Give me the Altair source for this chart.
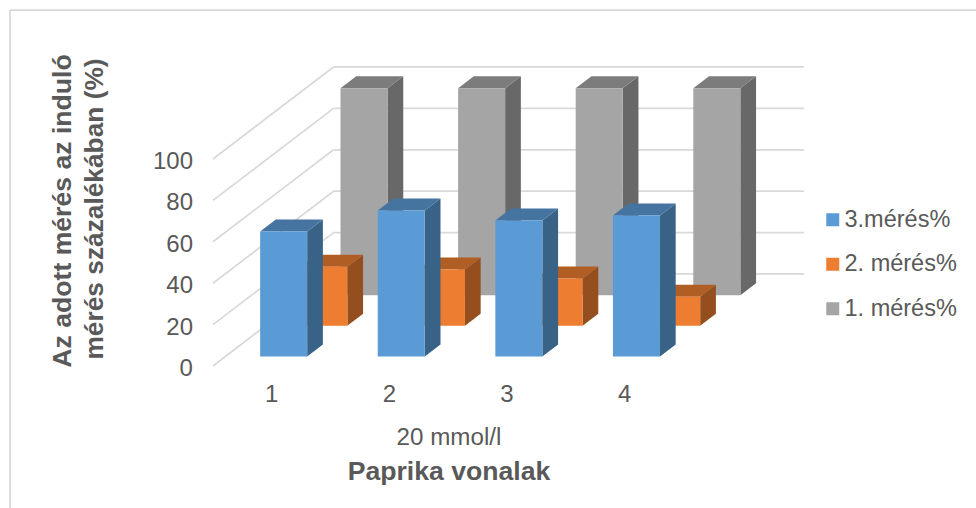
import altair as alt
import pandas as pd

# Chart values
categories = ["1", "2", "3", "4"]
series = ["3.mérés%", "2. mérés%", "1. mérés%"]
meres_3 = [60.4, 70.5, 65.7, 68.1]
meres_2 = [28.5, 27.2, 22.9, 14.0]
meres_1 = [100, 100, 100, 100]
y_ticks = [0, 20, 40, 60, 80, 100]

front_colors = ["#5B9BD5", "#ED7D31", "#A5A5A5"]
top_colors = ["#44749F", "#B15E25", "#7C7C7C"]
side_colors = ["#396287", "#954F1F", "#686868"]
text_color = "#595959"
grid_color = "#D9D9D9"
font = "Liberation Sans"

# Oblique projection: one full step of depth moves a point right and up
DEPTH_X = 1.025   # in category units
DEPTH_Y = 44.44   # in value units
BAR_WIDTH = 0.40
BAR_GAP = 0.295
SLOT_GAP = 0.31
SLOT_DEPTH = 0.391

x_scale = alt.Scale(domain=[-1.811, 6.488], nice=False, zero=False)
y_scale = alt.Scale(domain=[-68.6, 176.8], nice=False, zero=False)


def X(field):
    return alt.X(f"{field}:Q", scale=x_scale, axis=None)


def Y(field):
    return alt.Y(f"{field}:Q", scale=y_scale, axis=None)


# Floor and back-wall grid lines
diagonals = pd.DataFrame(
    [{"tick": t, "u": u, "v": t + z * DEPTH_Y}
     for t in y_ticks for u, z in ((0, 0), (DEPTH_X, 1))]
)
back_lines = pd.DataFrame(
    [{"tick": t, "u": u, "v": t + DEPTH_Y}
     for t in y_ticks for u in (DEPTH_X, len(categories) + DEPTH_X)]
)
grid_style = dict(color=grid_color, strokeWidth=1.75)
layers = [
    alt.Chart(diagonals).mark_line(**grid_style).encode(x=X("u"), y=Y("v"), detail="tick:N"),
    alt.Chart(back_lines).mark_line(**grid_style).encode(x=X("u"), y=Y("v"), detail="tick:N"),
]

# Bars are painted from the back row to the front row
values_by_series = [meres_3, meres_2, meres_1]
for s in (2, 1, 0):
    z0 = (s + SLOT_GAP) / 3
    z1 = (s + SLOT_GAP + SLOT_DEPTH) / 3
    front, side, top = [], [], []
    for c, value in enumerate(values_by_series[s]):
        left = c + BAR_GAP + z0 * DEPTH_X
        right = left + BAR_WIDTH
        base = z0 * DEPTH_Y
        head = base + value
        shift_u = (z1 - z0) * DEPTH_X
        shift_v = (z1 - z0) * DEPTH_Y
        front.append({"series": series[s], "x0": left, "x1": right, "y0": base, "y1": head})
        side.append({"bar": c, "u": right, "lo": base, "hi": head})
        side.append({"bar": c, "u": right + shift_u, "lo": base + shift_v, "hi": head + shift_v})
        top.append({"bar": c, "v": head, "a": left, "b": right})
        top.append({"bar": c, "v": head + shift_v, "a": left + shift_u, "b": right + shift_u})

    layers.append(
        alt.Chart(pd.DataFrame(side)).mark_area(color=side_colors[s], orient="vertical").encode(
            x=X("u"), y=Y("lo"), y2=alt.Y2("hi"), detail="bar:N")
    )
    layers.append(
        alt.Chart(pd.DataFrame(top)).mark_area(color=top_colors[s], orient="horizontal").encode(
            y=Y("v"), x=X("a"), x2=alt.X2("b"), detail="bar:N")
    )
    layers.append(
        alt.Chart(pd.DataFrame(front)).mark_rect().encode(
            x=X("x0"), x2=alt.X2("x1"), y=Y("y0"), y2=alt.Y2("y1"),
            color=alt.Color(
                "series:N",
                scale=alt.Scale(domain=series, range=front_colors),
                legend=alt.Legend(
                    title=None, orient="none", legendX=821, legendY=208,
                    symbolType="square", symbolSize=169, symbolStrokeWidth=0,
                    labelFont=font, labelFontSize=23.5, labelColor=text_color,
                    labelLimit=200, labelOffset=0, rowPadding=19.5, padding=0,
                ),
            ),
        )
    )

# Axis labels
tick_frame = pd.DataFrame({"v": y_ticks, "label": [str(t) for t in y_ticks]})
layers.append(
    alt.Chart(tick_frame).mark_text(
        align="right", baseline="middle", dx=-20, dy=3, font=font, fontSize=24, color=text_color
    ).encode(x=alt.datum(0, scale=x_scale, axis=None), y=Y("v"), text="label:N")
)
cat_frame = pd.DataFrame({"u": [i + 0.5 for i in range(len(categories))], "label": categories})
layers.append(
    alt.Chart(cat_frame).mark_text(
        align="center", baseline="middle", dy=29, font=font, fontSize=24, color=text_color
    ).encode(x=X("u"), y=alt.datum(0, scale=y_scale, axis=None), text="label:N")
)

# Titles and the chart frame
titles = pd.DataFrame({"label": ["x"]})


def caption(text, px, py, size, bold=False, angle=0):
    return alt.Chart(titles).mark_text(
        text=text, x=px, y=py, font=font, fontSize=size, color=text_color,
        fontWeight="bold" if bold else "normal", align="center", baseline="middle", angle=angle,
    ).encode(detail="label:N")


layers += [
    caption("20 mmol/l", 449, 438, 24.2),
    caption("Paprika vonalak", 449, 472, 26.6, bold=True),
    caption("Az adott mérés az induló", 63, 211, 26.6, bold=True, angle=270),
    caption("mérés százalékában (%)", 95, 209, 26.3, bold=True, angle=270),
    alt.Chart(titles).mark_rule(color=grid_color, strokeWidth=1.75).encode(
        x=alt.value(10), x2=alt.value(976), y=alt.value(10)),
    alt.Chart(titles).mark_rule(color=grid_color, strokeWidth=1.75).encode(
        x=alt.value(10), y=alt.value(10), y2=alt.value(508)),
]

chart = (
    alt.layer(*layers)
    .properties(width=976, height=508, padding=0, autosize=alt.AutoSizeParams(type="none"), background="white")
    .configure_view(stroke=None)
)

chart.save("out.html", embed_options={"renderer": "svg", "actions": False})
